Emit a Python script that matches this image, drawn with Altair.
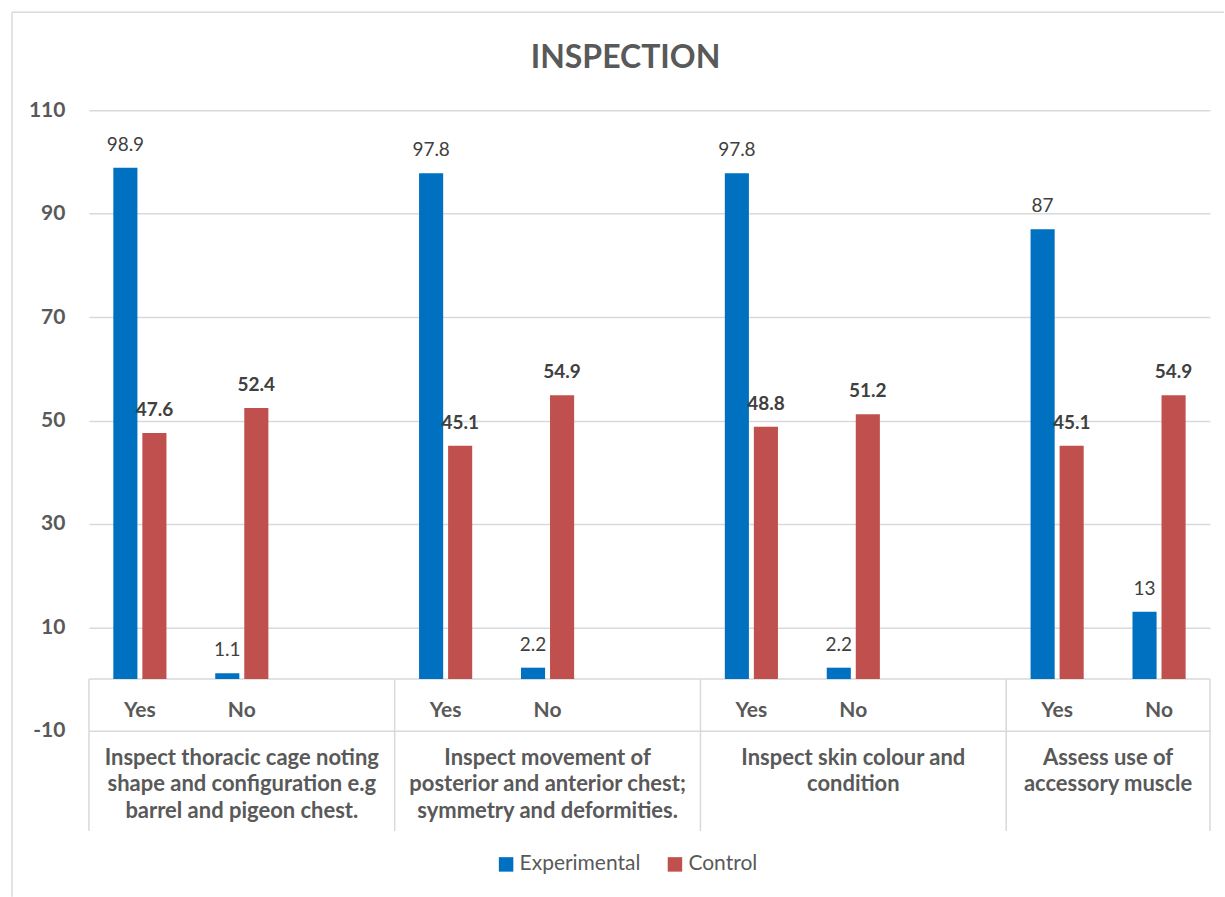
import altair as alt
import pandas as pd

# ---- data -------------------------------------------------------------
groups = [
    "Inspect thoracic cage noting\nshape and configuration e.g\nbarrel and pigeon chest.",
    "Inspect movement of\nposterior and anterior chest;\nsymmetry and deformities.",
    "Inspect skin colour and\ncondition",
    "Assess use of\naccessory muscle",
]
answers = ["Yes", "No"]
series = ["Experimental", "Control"]
experimental = [98.9, 1.1, 97.8, 2.2, 97.8, 2.2, 87, 13]
control = [47.6, 52.4, 45.1, 54.9, 48.8, 51.2, 45.1, 54.9]
y_ticks = [-10, 10, 30, 50, 70, 90, 110]

BLUE = "#0070C0"
RED = "#C0504D"
GRID = "#D9D9D9"
TEXT = "#595959"
LABEL = "#404040"
FONT = "Lato"

# category slots: Yes / No per group, with an empty slot after the first three groups
slots = []
for gi in range(len(groups)):
    slots += [f"{gi}-Yes", f"{gi}-No"]
    if gi < len(groups) - 1:
        slots.append(f"{gi}-gap")

rows = []
k = 0
for gi in range(len(groups)):
    for ans in answers:
        for s, vals in zip(series, [experimental, control]):
            v = vals[k]
            rows.append({"slot": f"{gi}-{ans}", "answer": ans, "series": s,
                         "value": v, "label": f"{v:g}"})
        k += 1
bars = pd.DataFrame(rows)

answer_df = pd.DataFrame([{"slot": f"{gi}-{a}", "answer": a}
                          for gi in range(len(groups)) for a in answers])
group_df = pd.DataFrame([{"slot": f"{gi}-No", "group": g} for gi, g in enumerate(groups)])
edge_df = pd.DataFrame([{"slot": f"{gi}-Yes", "y0": 0, "y1": -29.4} for gi in range(len(groups))])
end_df = pd.DataFrame([{"slot": slots[-1], "y0": 0, "y1": -29.4}])
zero_df = pd.DataFrame([{"y": 0}])
one = pd.DataFrame([{"t": "INSPECTION"}])

x_scale = alt.Scale(domain=slots, paddingInner=0, paddingOuter=0)
y_scale = alt.Scale(domain=[-10, 110], nice=False, zero=False)
off_scale = alt.Scale(domain=series, paddingInner=0.17, paddingOuter=0.84)

y_axis = alt.Axis(
    values=y_ticks, grid=True, gridColor=GRID, gridWidth=1.5,
    domain=False, ticks=False, title=None,
    labelFont=FONT, labelFontWeight="bold", labelFontSize=21,
    labelColor=TEXT, labelPadding=24, labelExpr="'' + datum.value",
)

bar_layer = alt.Chart(bars).mark_bar().encode(
    x=alt.X("slot:N", scale=x_scale, axis=None),
    xOffset=alt.XOffset("series:N", scale=off_scale),
    y=alt.Y("value:Q", scale=y_scale, axis=y_axis),
    y2=alt.datum(0),
    color=alt.Color(
        "series:N",
        scale=alt.Scale(domain=series, range=[BLUE, RED]),
        legend=alt.Legend(
            orient="none", legendX=407, legendY=744, direction="horizontal",
            title=None, symbolType="square", symbolSize=210, symbolStrokeWidth=0,
            labelFont=FONT, labelFontSize=21, labelColor=TEXT,
            columnPadding=24, labelOffset=3, padding=0,
        ),
    ),
)


def value_labels(name, weight):
    return alt.Chart(bars).transform_filter(alt.datum.series == name).mark_text(
        font=FONT, fontSize=19, fontWeight=weight, color=LABEL,
        baseline="alphabetic", dy=-17,
    ).encode(
        x=alt.X("slot:N", scale=x_scale, axis=None),
        xOffset=alt.XOffset("series:N", scale=off_scale),
        y=alt.Y("value:Q", scale=y_scale),
        text="label:N",
    )


exp_labels = value_labels("Experimental", "normal")
ctl_labels = value_labels("Control", "bold")

# horizontal category axis line at zero
zero_line = alt.Chart(zero_df).mark_rule(color=GRID, strokeWidth=1.5).encode(
    y=alt.Y("y:Q", scale=y_scale),
    x=alt.value(0), x2=alt.value(1122),
)

# vertical separators between the outer categories
edges = alt.Chart(edge_df).mark_rule(color=GRID, strokeWidth=1.5).encode(
    x=alt.X("slot:N", scale=x_scale, axis=None, bandPosition=0),
    y=alt.Y("y0:Q", scale=y_scale), y2="y1:Q",
)
end_edge = alt.Chart(end_df).mark_rule(color=GRID, strokeWidth=1.5).encode(
    x=alt.X("slot:N", scale=x_scale, axis=None, bandPosition=1),
    y=alt.Y("y0:Q", scale=y_scale), y2="y1:Q",
)

answer_text = alt.Chart(answer_df).mark_text(
    font=FONT, fontSize=21, fontWeight="bold", color=TEXT, baseline="middle",
).encode(
    x=alt.X("slot:N", scale=x_scale, axis=None),
    y=alt.value(601),
    text="answer:N",
)

group_style = dict(
    font=FONT, fontSize=22, fontWeight="bold", color=TEXT,
    baseline="alphabetic", lineBreak="\n", lineHeight=26.5,
)
group_text_main = alt.Chart(group_df).transform_filter(
    alt.datum.slot != f"{len(groups) - 1}-No"
).mark_text(**group_style).encode(
    x=alt.X("slot:N", scale=x_scale, axis=None),
    y=alt.value(655),
    text="group:N",
)
group_text_last = alt.Chart(group_df).transform_filter(
    alt.datum.slot == f"{len(groups) - 1}-No"
).mark_text(**group_style).encode(
    x=alt.X("slot:N", scale=x_scale, axis=None, bandPosition=0),
    y=alt.value(655),
    text="group:N",
)

title_text = alt.Chart(one).mark_text(
    font=FONT, fontSize=32, fontWeight="bold", color=TEXT, baseline="alphabetic",
).encode(x=alt.value(537), y=alt.value(-42.5), text="t:N")

# chart-area frame (left and top edges)
frame_left = alt.Chart(one).mark_rule(color=GRID, strokeWidth=1.5).encode(
    x=alt.value(-77), y=alt.value(-98), y2=alt.value(787),
)
frame_top = alt.Chart(one).mark_rule(color=GRID, strokeWidth=1.5).encode(
    x=alt.value(-77), x2=alt.value(1136), y=alt.value(-98),
)

chart = alt.layer(
    frame_left, frame_top, zero_line, edges, end_edge,
    bar_layer, exp_labels, ctl_labels,
    answer_text, group_text_main, group_text_last, title_text,
).properties(
    width=1122, height=621,
    padding={"left": 11, "top": 11, "right": 0, "bottom": 0},
    background="white",
).configure_view(stroke=None)

chart.save("out.html", embed_options={"renderer": "svg", "actions": False})
